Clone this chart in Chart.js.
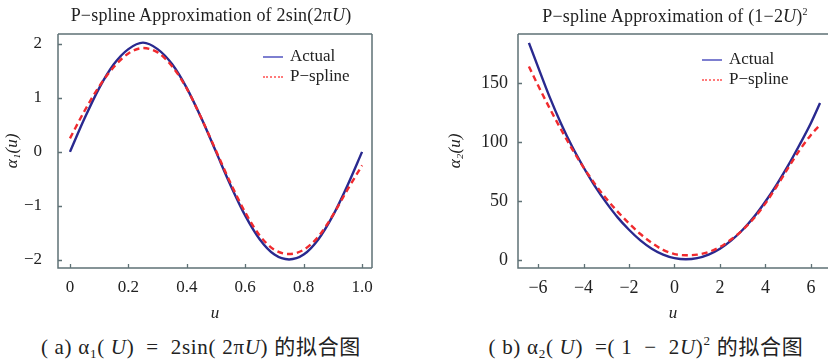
<!DOCTYPE html>
<html>
<head>
<meta charset="utf-8">
<script src="https://cdn.jsdelivr.net/npm/chart.js@4.4.1/dist/chart.umd.min.js"></script>
<style>
  html, body { margin:0; padding:0; background:#fff; }
  body { width:828px; height:360px; overflow:hidden; position:relative; font-family:"Liberation Serif","DejaVu Serif",serif; color:#222; }
  .abs { position:absolute; white-space:nowrap; }
  .title { font-size:18px; letter-spacing:0.2px; transform:translate(-50%,-50%); }
  .cap { font-size:21px; letter-spacing:0.7px; transform:translate(-50%,-50%); font-family:"Liberation Serif","Noto Sans CJK SC",serif; }
  .cap sub { font-size:13px; vertical-align:-4px; }
  .cap sup { font-size:13px; vertical-align:9px; }
  .leg { font-size:17px; line-height:20px; }
  .leg .row { position:relative; height:20px; }
  .leg .sw { position:absolute; top:10px; width:20px; height:0; }
  .leg .txt { position:absolute; top:0; }
  canvas { position:absolute; top:0; }
</style>
</head>
<body>
<canvas id="c1" width="414" height="330" style="left:0"></canvas>
<canvas id="c2" width="414" height="330" style="left:414px"></canvas>

<div class="abs title" style="left:211px; top:15px;">P−spline Approximation of 2sin(2π<i>U</i>)</div>
<div class="abs title" style="left:675px; top:16px;">P−spline Approximation of (1−2<i>U</i>)<sup style="font-size:10px">2</sup></div>

<div class="abs leg" style="left:263px; top:46px;">
  <div class="row"><span class="sw" style="left:0;border-top:2px solid #7d7fd0"></span><span class="txt" style="left:27px">Actual</span></div>
  <div class="row"><span class="sw" style="left:0;border-top:2px dotted #ff7a7a"></span><span class="txt" style="left:27px">P−spline</span></div>
</div>
<div class="abs leg" style="left:702px; top:49px;">
  <div class="row"><span class="sw" style="left:0;border-top:2px solid #7d7fd0"></span><span class="txt" style="left:27px">Actual</span></div>
  <div class="row"><span class="sw" style="left:0;border-top:2px dotted #ff7a7a"></span><span class="txt" style="left:27px">P−spline</span></div>
</div>

<div class="abs cap" style="left:201px; top:346px;">( a) α<sub>1</sub>( <i>U</i>) &nbsp;= &nbsp;2sin( 2π<i>U</i>) 的拟合图</div>
<div class="abs cap" style="left:646px; top:346px;">( b) α<sub>2</sub>( <i>U</i>) &nbsp;=( 1 &nbsp;− &nbsp;2<i>U</i>)<sup>2</sup> 的拟合图</div>

<script>
// ---- Data (a): 2sin(2πU) ----
const uA       = [0, 0.05, 0.1, 0.15, 0.2, 0.25, 0.3, 0.35, 0.4, 0.45, 0.5, 0.55, 0.6, 0.65, 0.7, 0.75, 0.8, 0.85, 0.9, 0.95, 1.0];
const actualA  = [0, 0.62, 1.18, 1.62, 1.90, 2.02, 1.90, 1.62, 1.18, 0.62, 0, -0.62, -1.18, -1.62, -1.90, -1.99, -1.90, -1.62, -1.18, -0.62, 0];
const splineA  = [0.25, 0.76, 1.21, 1.57, 1.82, 1.92, 1.84, 1.58, 1.17, 0.62, 0.02, -0.58, -1.12, -1.55, -1.81, -1.89, -1.81, -1.57, -1.17, -0.70, -0.25];
const xTicksA = [0, 0.2, 0.4, 0.6, 0.8, 1.0];
const xTickLabelsA = ['0', '0.2', '0.4', '0.6', '0.8', '1.0'];
const yTicksA = [-2, -1, 0, 1, 2];
const yTickLabelsA = ['−2', '−1', '0', '1', '2'];

// ---- Data (b): (1-2U)^2 ----
const uB       = [-6.4, -6, -5.5, -5, -4.5, -4, -3.5, -3, -2.5, -2, -1.5, -1, -0.5, 0, 0.5, 1, 1.5, 2, 2.5, 3, 3.5, 4, 4.5, 5, 5.5, 6, 6.4];
const actualB  = [184, 163.6, 138.6, 116.1, 96.1, 78.6, 62.6, 48.6, 36.1, 25.6, 16.6, 9.6, 4.6, 1.6, 0.6, 1.6, 4.6, 9.6, 16.6, 25.6, 36.6, 49.6, 64.1, 80.1, 97.6, 116.1, 133];
const splineB  = [164, 148, 129, 111, 94, 78.5, 64.5, 52, 41, 31, 22, 14.5, 8.5, 5.0, 4.0, 4.5, 6.8, 11, 17.5, 25.5, 35.5, 48, 62.5, 78, 93, 106, 114.5];
const xTicksB = [-6, -4, -2, 0, 2, 4, 6];
const xTickLabelsB = ['−6', '−4', '−2', '0', '2', '4', '6'];
const yTicksB = [0, 50, 100, 150];
const yTickLabelsB = ['0', '50', '100', '150'];

const AXIS = '#5f7276';
const BLUE = '#29298f';
const RED = '#f02a2e';
const FONT = "'Liberation Serif', 'Times New Roman', serif";
Chart.defaults.font.family = FONT;

const framePlugin = {
  id: 'frame',
  beforeDatasetsDraw(chart, args, opts) {
    const {ctx, chartArea: {left, right, top, bottom}, scales: {x, y}} = chart;
    ctx.save();
    ctx.strokeStyle = AXIS;
    ctx.lineWidth = 1.5;
    ctx.beginPath();
    ctx.moveTo(left, top); ctx.lineTo(left, bottom); ctx.lineTo(right, bottom);
    ctx.moveTo(left, top); ctx.lineTo(right, top);
    if (opts.rightBorder) { ctx.moveTo(right, top); ctx.lineTo(right, bottom); }
    ctx.stroke();
    ctx.lineWidth = 1.3;
    ctx.beginPath();
    x.ticks.forEach(t => { const p = Math.round(x.getPixelForValue(t.value)) + 0.5; ctx.moveTo(p, bottom); ctx.lineTo(p, bottom - 4); });
    y.ticks.forEach(t => { const p = Math.round(y.getPixelForValue(t.value)) + 0.5; ctx.moveTo(left, p); ctx.lineTo(left + 4, p); });
    ctx.stroke();
    ctx.restore();
  }
};

function pts(u, v) { return u.map((x, i) => ({x: x, y: v[i]})); }

function makeChart(id, cfg) {
  return new Chart(document.getElementById(id), {
    type: 'line',
    data: {
      datasets: [
        { label: 'P-spline', data: pts(cfg.u, cfg.spl), borderColor: RED, borderWidth: 2.4, borderDash: [6, 4], pointRadius: 0, cubicInterpolationMode: 'monotone', fill: false },
        { label: 'Actual', data: pts(cfg.u, cfg.act), borderColor: BLUE, borderWidth: 2.4, pointRadius: 0, cubicInterpolationMode: 'monotone', fill: false }
      ]
    },
    options: {
      responsive: false,
      animation: false,
      events: [],
      layout: { padding: { top: 34, right: cfg.padRight, left: 0, bottom: 0 } },
      plugins: { legend: { display: false }, tooltip: { enabled: false }, frame: { rightBorder: cfg.rightBorder } },
      scales: {
        x: {
          type: 'linear', min: cfg.xmin, max: cfg.xmax,
          grid: { display: false, drawTicks: false },
          border: { display: false },
          afterBuildTicks: s => { s.ticks = cfg.xt.map(v => ({value: v})); },
          afterFit: s => { s.height = 62; },
          ticks: { autoSkip: false, maxRotation: 0, padding: cfg.xPad, color: '#222', font: { family: FONT, size: cfg.tickSize }, callback: (v, i) => cfg.xl[i] },
          title: { display: true, text: 'u', color: '#222', font: { family: FONT, size: 17, style: 'italic' }, padding: { top: 0, bottom: 6 } }
        },
        y: {
          type: 'linear', min: cfg.ymin, max: cfg.ymax,
          grid: { display: false, drawTicks: false },
          border: { display: false },
          afterBuildTicks: s => { s.ticks = cfg.yt.map(v => ({value: v})); },
          afterFit: s => { s.width = cfg.yWidth; },
          ticks: { autoSkip: false, padding: cfg.yPad, color: '#222', font: { family: FONT, size: cfg.tickSize }, callback: (v, i) => cfg.yl[i] },
          title: { display: true, text: cfg.yTitle, color: '#222', font: { family: FONT, size: 17, style: 'italic' }, padding: { top: cfg.yTitlePad, bottom: 0 } }
        }
      }
    },
    plugins: [framePlugin]
  });
}

function draw() {
  makeChart('c1', {
    u: uA, act: actualA, spl: splineA,
    xt: xTicksA, xl: xTickLabelsA, yt: yTicksA, yl: yTickLabelsA,
    xmin: -0.041, xmax: 1.034, ymin: -2.148, ymax: 2.18,
    padRight: 42, rightBorder: true, yWidth: 58, yPad: 16, xPad: 9, tickSize: 17,
    yTitle: 'α₁(u)', yTitlePad: 2
  });
  makeChart('c2', {
    u: uB, act: actualB, spl: splineB,
    xt: xTicksB, xl: xTickLabelsB, yt: yTicksB, yl: yTickLabelsB,
    xmin: -6.88, xmax: 6.75, ymin: -6.8, ymax: 191.5,
    padRight: 0, rightBorder: false, yWidth: 104, yPad: 10, xPad: 9, tickSize: 18,
    yTitle: 'α₂(u)', yTitlePad: 31
  });
}

Promise.all([
  document.fonts.load("17px 'Liberation Serif'"),
  document.fonts.load("italic 17px 'Liberation Serif'")
]).then(draw, draw);
</script>
</body>
</html>
